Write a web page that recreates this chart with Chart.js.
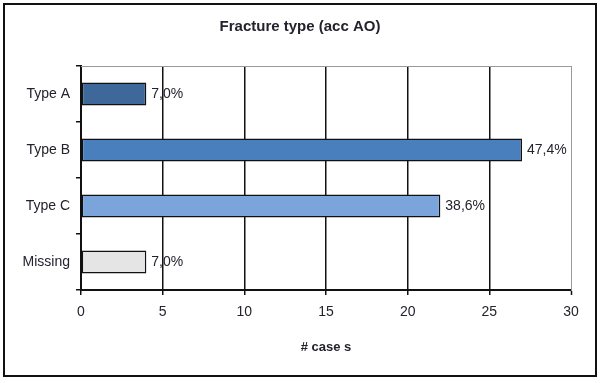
<!DOCTYPE html>
<html>
<head>
<meta charset="utf-8">
<script src="https://cdn.jsdelivr.net/npm/chart.js@4/dist/chart.umd.min.js"></script>
<style>
  html, body { margin: 0; padding: 0; background: #fff; }
  #wrap { position: relative; width: 600px; height: 383px; }
  #frame {
    position: absolute; left: 3px; top: 3px; width: 594px; height: 374px;
    box-sizing: border-box; border: 2px solid #111; pointer-events: none;
  }
</style>
</head>
<body>
<div id="wrap">
  <canvas id="chart" width="600" height="383"></canvas>
  <div id="frame"></div>
</div>
<script>
'use strict';

// ── Data ────────────────────────────────────────────────
const categories = ['Type A', 'Type B', 'Type C', 'Missing'];
const cases      = [4, 27, 22, 4];
const pctLabels  = ['7,0%', '47,4%', '38,6%', '7,0%'];
const xTicks     = [0, 5, 10, 15, 20, 25, 30];
const barColors  = ['#3d6899', '#4a7fbd', '#7ba4da', '#e5e5e5'];

const FONT = '"Liberation Sans", Arial, sans-serif';
const INK  = '#23232e';

// ── Plugins ─────────────────────────────────────────────
const valueLabels = {
  id: 'valueLabels',
  afterDatasetsDraw(chart) {
    const { ctx } = chart;
    const meta = chart.getDatasetMeta(0);
    ctx.save();
    ctx.font = `14px ${FONT}`;
    ctx.fillStyle = INK;
    ctx.textAlign = 'left';
    ctx.textBaseline = 'middle';
    meta.data.forEach((bar, i) => {
      ctx.fillText(pctLabels[i], bar.x + 5, bar.y);
    });
    ctx.restore();
  },
};

const plotFrame = {
  id: 'plotFrame',
  beforeDatasetsDraw(chart) {
    const { ctx, chartArea: a } = chart;
    ctx.save();
    ctx.strokeStyle = '#999';
    ctx.lineWidth = 1;
    ctx.beginPath();
    ctx.moveTo(a.left, a.top + 0.5);
    ctx.lineTo(a.right + 0.5, a.top + 0.5);
    ctx.lineTo(a.right + 0.5, a.bottom);
    ctx.stroke();
    ctx.restore();
  },
};

// ── Chart ───────────────────────────────────────────────
new Chart(document.getElementById('chart'), {
  type: 'bar',
  data: {
    labels: categories,
    datasets: [{
      data: cases,
      backgroundColor: barColors,
      borderColor: '#111',
      borderWidth: 1.5,
      borderSkipped: false,
      barPercentage: 0.41,
      categoryPercentage: 1,
    }],
  },
  options: {
    indexAxis: 'y',
    responsive: false,
    animation: false,
    layout: { padding: 0 },
    plugins: {
      legend: { display: false },
      tooltip: { enabled: false },
      title: {
        display: true,
        text: 'Fracture type (acc AO)',
        color: INK,
        font: { family: FONT, size: 15, weight: 'bold' },
        padding: { top: 18, bottom: 30 },
      },
    },
    scales: {
      x: {
        min: 0, max: 30,
        afterBuildTicks: s => { s.ticks = xTicks.map(v => ({ value: v })); },
        afterFit: s => { s.height = 93; },
        ticks: { color: INK, font: { family: FONT, size: 14 }, padding: 9 },
        grid: {
          color: c => (c.index === xTicks.length - 1 ? '#999' : '#111'),
          lineWidth: c => (c.index === xTicks.length - 1 ? 1 : 1.5),
          tickLength: 5,
          tickColor: '#111',
          tickWidth: 1.5,
        },
        border: { color: '#111', width: 2 },
        title: {
          display: true,
          text: '# case s',
          color: INK,
          font: { family: FONT, size: 13, weight: 'bold' },
          padding: { top: 0, bottom: 28 },
        },
      },
      y: {
        afterFit: s => { s.width = 81; },
        ticks: { color: INK, font: { family: FONT, size: 14 }, padding: 6 },
        grid: {
          offset: true,
          drawOnChartArea: false,
          tickLength: 5,
          color: '#111',
          lineWidth: 1.5,
        },
        border: { color: '#111', width: 2 },
      },
      // empty right-hand margin so the plot ends where the reference does
      yPad: {
        type: 'category',
        position: 'right',
        afterFit: s => { s.width = 29; },
        ticks: { display: false },
        grid: { display: false },
        border: { display: false },
      },
    },
  },
  plugins: [plotFrame, valueLabels],
});
</script>
</body>
</html>
